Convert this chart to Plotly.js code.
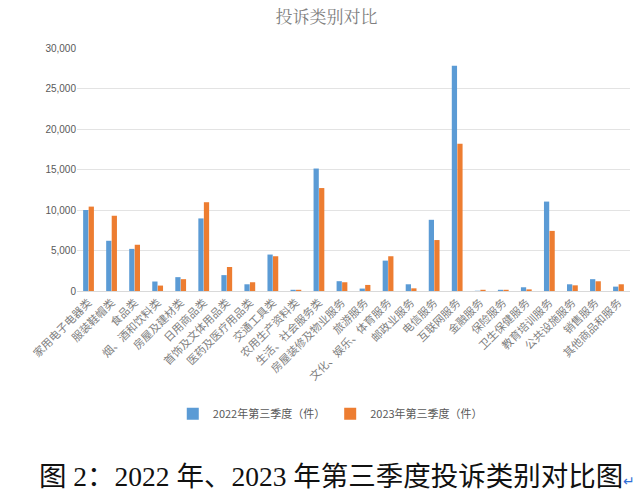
<!DOCTYPE html>
<html>
<head>
<meta charset="utf-8">
<script src="https://cdn.plot.ly/plotly-3.0.1.min.js"></script>
<style>
  html, body { margin: 0; padding: 0; background: #fff; }
  #chart { width: 640px; height: 499px; }
</style>
</head>
<body>
<div id="chart"></div>
<script>
// 投诉类别
const categories = [
  "家用电子电器类", "服装鞋帽类", "食品类", "烟、酒和饮料类", "房屋及建材类",
  "日用商品类", "首饰及文体用品类", "医药及医疗用品类", "交通工具类", "农用生产资料类",
  "生活、社会服务类", "房屋装修及物业服务", "旅游服务", "文化、娱乐、体育服务", "邮政业服务",
  "电信服务", "互联网服务", "金融服务", "保险服务", "卫生保健服务",
  "教育培训服务", "公共设施服务", "销售服务", "其他商品和服务"
];

// 2022年第三季度（件）
const q3_2022 = [
  10000, 6200, 5200, 1170, 1710,
  8960, 1960, 830, 4500, 150,
  15120, 1210, 300, 3750, 830,
  8790, 27800, 30, 150, 460,
  11040, 830, 1460, 540
];

// 2023年第三季度（件）
const q3_2023 = [
  10420, 9290, 5710, 670, 1460,
  10960, 2960, 1080, 4290, 150,
  12710, 1080, 750, 4290, 330,
  6290, 18170, 150, 150, 200,
  7420, 700, 1200, 830
];

const seriesNames = ["2022年第三季度（件）", "2023年第三季度（件）"];
const yTicks = [0, 5000, 10000, 15000, 20000, 25000, 30000];

const cjk = '"Noto Sans CJK SC", "Noto Sans", sans-serif';

const data = [
  {
    type: "bar",
    name: seriesNames[0],
    x: categories,
    y: q3_2022,
    marker: { color: "#5B9BD5" }
  },
  {
    type: "bar",
    name: seriesNames[1],
    x: categories,
    y: q3_2023,
    marker: { color: "#ED7D31" }
  }
];

const layout = {
  width: 640,
  height: 499,
  paper_bgcolor: "#fff",
  plot_bgcolor: "#fff",
  margin: { l: 77, r: 10, t: 48, b: 208 },
  font: { family: cjk, color: "#595959", size: 11 },
  title: {
    text: "投诉类别对比",
    x: 0.51,
    xanchor: "center",
    y: 0.965,
    yanchor: "middle",
    font: { family: '"Noto Serif CJK SC", "Noto Sans CJK SC", serif', size: 17, color: "#7f7f7f" }
  },
  barmode: "group",
  bargap: 0.52,
  bargroupgap: 0.05,
  xaxis: {
    type: "category",
    tickangle: -45,
    tickfont: { family: cjk, size: 11, color: "#7f7f7f" },
    showline: true,
    linecolor: "#d9d9d9",
    ticks: "",
    showgrid: false,
    automargin: false
  },
  yaxis: {
    range: [0, 30000],
    tickvals: yTicks,
    tickformat: ",",
    tickfont: { family: '"Liberation Sans", Arial, sans-serif', size: 10, color: "#595959" },
    gridcolor: "#e3e3e3",
    zeroline: false,
    ticks: "",
    automargin: false
  },
  showlegend: true,
  legend: {
    orientation: "h",
    x: 0.458,
    xanchor: "center",
    y: -0.505,
    yanchor: "middle",
    font: { family: cjk, size: 11, color: "#595959" },
    itemwidth: 30,
    traceorder: "normal"
  },
  annotations: [
    {
      xref: "paper",
      yref: "paper",
      x: 0.47,
      y: -0.762,
      xanchor: "center",
      yanchor: "middle",
      showarrow: false,
      text: "图 2：2022 年、2023 年第三季度投诉类别对比图<span style=\"color:#2f6fd6;font-size:14px\">↵</span>",
      font: { family: '"Liberation Serif", "Noto Sans CJK SC", serif', size: 27.5, color: "#111" }
    }
  ]
};

Plotly.newPlot("chart", data, layout, { displayModeBar: false, staticPlot: true });
</script>
</body>
</html>
